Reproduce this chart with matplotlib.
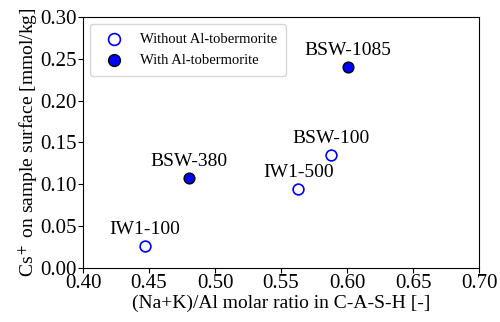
import matplotlib.pyplot as plt

plt.rcParams['font.family'] = ['Liberation Serif', 'DejaVu Serif']
plt.rcParams['mathtext.fontset'] = 'stix'

# Samples without Al-tobermorite
open_names = ["IW1-100", "IW1-500", "BSW-100"]
open_x = [0.447, 0.563, 0.588]
open_y = [0.026, 0.094, 0.135]

# Samples with Al-tobermorite
filled_names = ["BSW-380", "BSW-1085"]
filled_x = [0.480, 0.601]
filled_y = [0.107, 0.240]

fig = plt.figure(figsize=(5.0, 3.22), dpi=100)
ax = fig.add_axes([0.166, 0.168, 0.792, 0.779])

ax.scatter(open_x, open_y, s=60, facecolors="white", edgecolors="blue",
           linewidths=1.2, label="Without Al-tobermorite", zorder=3)
ax.scatter(filled_x, filled_y, s=60, facecolors="blue", edgecolors="black",
           linewidths=1.0, label="With Al-tobermorite", zorder=3)

for name, x, y in zip(open_names + filled_names, open_x + filled_x, open_y + filled_y):
    ax.annotate(name, (x, y), xytext=(0, 6), textcoords="offset points",
                ha="center", va="bottom", fontsize=14)

ax.set_xlim(0.40, 0.70)
ax.set_ylim(0.0, 0.30)
ax.set_xticks([0.40, 0.45, 0.50, 0.55, 0.60, 0.65, 0.70])
ax.set_yticks([0.00, 0.05, 0.10, 0.15, 0.20, 0.25, 0.30])
ax.xaxis.set_major_formatter(plt.FormatStrFormatter("%.2f"))
ax.yaxis.set_major_formatter(plt.FormatStrFormatter("%.2f"))
ax.tick_params(labelsize=15, length=3.5, pad=1)
ax.set_xlabel("(Na+K)/Al molar ratio in C-A-S-H [-]", fontsize=14, labelpad=1)
ax.set_ylabel("Cs$^+$ on sample surface [mmol/kg]", fontsize=14, labelpad=0)

ax.legend(loc="upper left", fontsize=10.5, handletextpad=0.8, borderpad=0.6,
          markerscale=1.1)

fig.savefig("out.png", dpi=100)
